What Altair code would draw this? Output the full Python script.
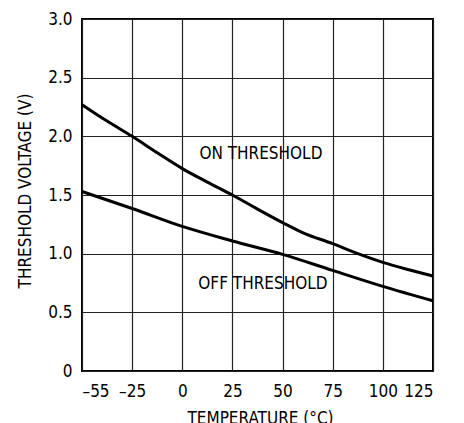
import altair as alt
import pandas as pd

FONT = "DejaVu Sans Condensed"
FS = 17

# data
temp_on = [-50, -37.5, -25, -12.5, 0, 12.5, 25, 37.5, 50, 60, 75, 87.5, 100, 112.5, 125]
v_on = [2.27, 2.13, 2.00, 1.86, 1.725, 1.61, 1.50, 1.38, 1.265, 1.18, 1.085, 1.00, 0.926, 0.865, 0.81]
temp_off = [-50, -25, 0, 25, 50, 75, 100, 125]
v_off = [1.53, 1.385, 1.232, 1.108, 0.994, 0.857, 0.721, 0.598]

x_ticks = [-50, -25, 0, 25, 50, 75, 100, 125]
y_ticks = [0, 0.5, 1.0, 1.5, 2.0, 2.5, 3.0]

labels = ["ON THRESHOLD", "OFF THRESHOLD"]
label_x = [39.2, 40.2]
label_y = [1.803, 0.70]

df = pd.DataFrame(
    {"t": temp_on + temp_off,
     "v": v_on + v_off,
     "series": ["ON"] * len(temp_on) + ["OFF"] * len(temp_off)}
)
lab = pd.DataFrame({"text": labels, "t": label_x, "v": label_y})

xs = alt.Scale(domain=[-50, 125], nice=False, zero=False)
ys = alt.Scale(domain=[0, 3], nice=False)

x_axis = alt.Axis(
    values=x_ticks, title="TEMPERATURE (°C)", grid=True, ticks=False, tickSize=0, domain=False,
    labelExpr="datum.value == -50 ? '\u201355' : (datum.value < 0 ? '\u2013' + abs(datum.value) : datum.label)",
    labelPadding=25.5, labelBaseline="alphabetic",
    titleX=178, titleY=52, titleBaseline="alphabetic", titleAlign="center",
)
y_axis = alt.Axis(
    values=y_ticks, title="THRESHOLD VOLTAGE (V)", grid=True, ticks=False, tickSize=0, domain=False,
    labelExpr="datum.value == 0 ? '0' : format(datum.value, '.1f')",
    labelPadding=10,
    titleAngle=270, titleX=-51.5, titleY=171.5, titleBaseline="alphabetic", titleAlign="center",
)

lines = alt.Chart(df).mark_line(color="black", strokeWidth=3, interpolate="monotone").encode(
    x=alt.X("t:Q", scale=xs, axis=x_axis),
    y=alt.Y("v:Q", scale=ys, axis=y_axis),
    detail="series:N",
)

texts = alt.Chart(lab).mark_text(font=FONT, fontSize=FS, color="black", baseline="alphabetic", align="center").encode(
    x=alt.X("t:Q", scale=xs),
    y=alt.Y("v:Q", scale=ys),
    text="text:N",
)

chart = (
    alt.layer(lines, texts)
    .properties(width=351, height=352, autosize="none",
                padding={"left": 74, "top": 11, "right": 23, "bottom": 64})
    .configure(background="white")
    .configure_view(stroke="black", strokeWidth=2)
    .configure_axis(
        labelFont=FONT, titleFont=FONT, labelFontSize=FS, titleFontSize=FS,
        labelColor="black", titleColor="black", titleFontWeight="normal",
        gridColor="#222222", gridWidth=1.2, gridOpacity=1,
    )
)

chart.save("out.html", embed_options={"renderer": "svg", "actions": False})
